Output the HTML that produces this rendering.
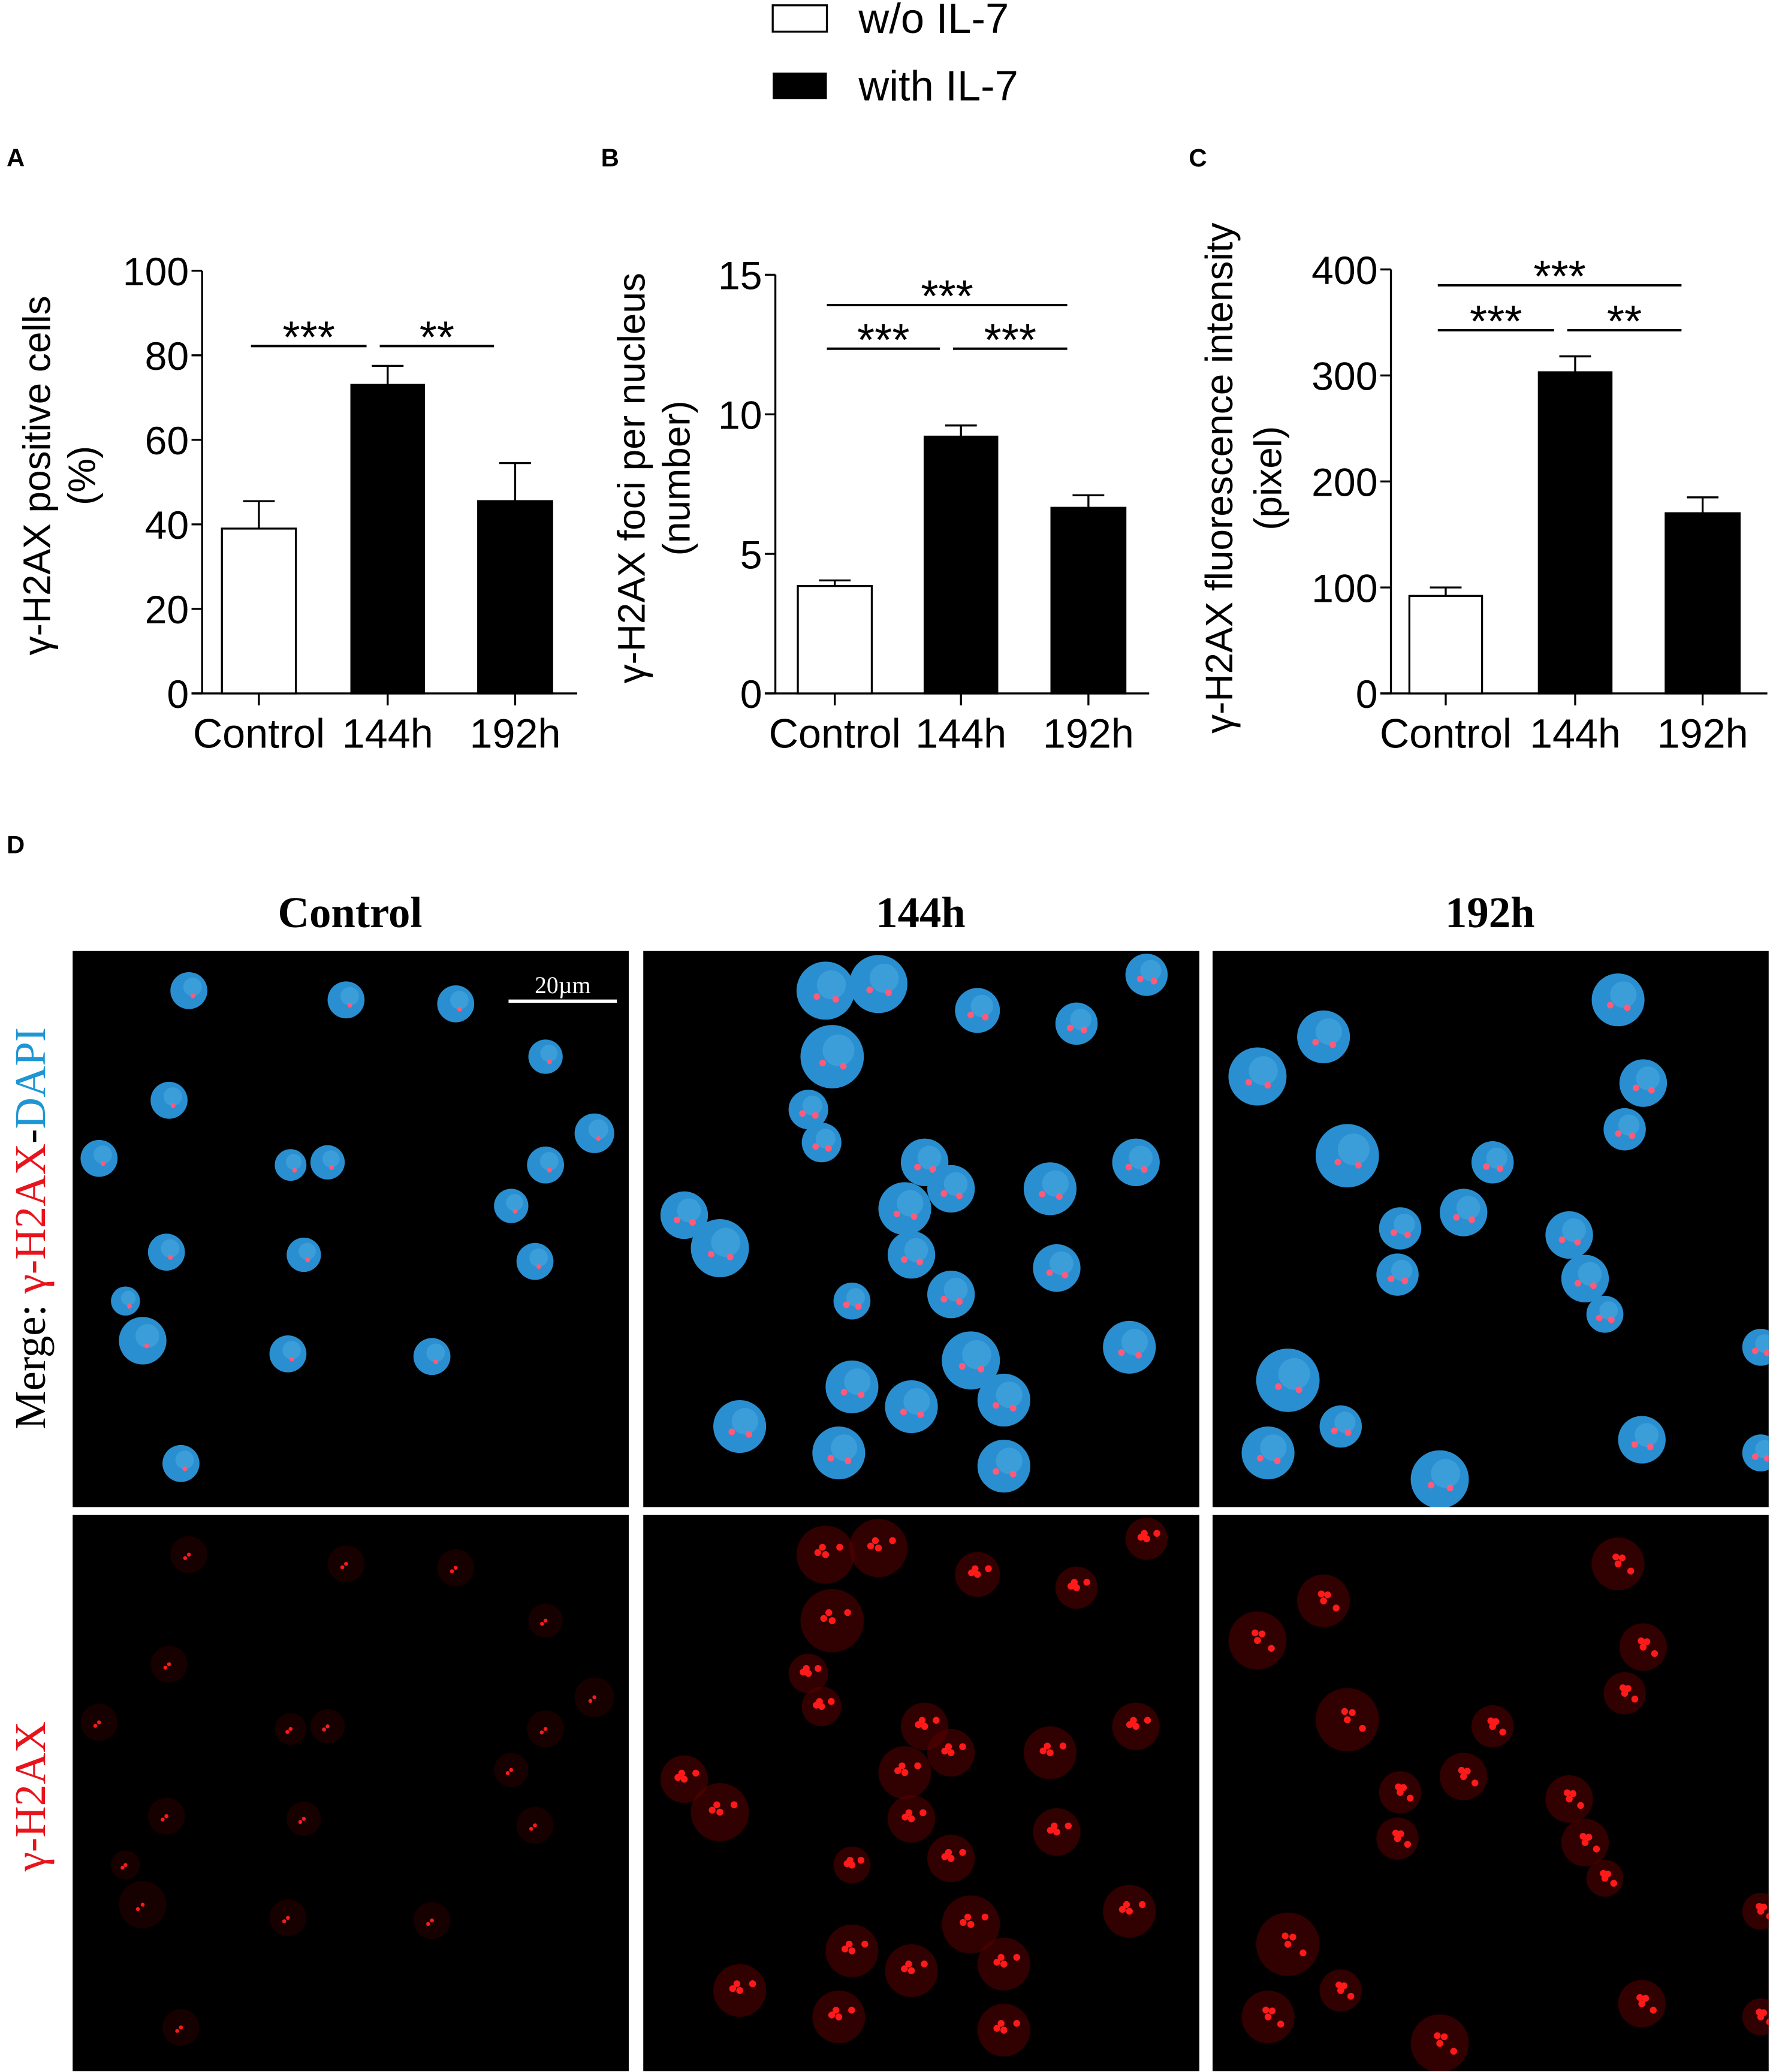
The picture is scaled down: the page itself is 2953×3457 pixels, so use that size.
<!DOCTYPE html>
<html><head><meta charset="utf-8"><title>γ-H2AX figure</title>
<style>
html,body{margin:0;padding:0;background:#fff}
svg{display:block}
text{font-family:"Liberation Sans",Arial,sans-serif}
.serif{font-family:"Liberation Serif","Times New Roman",serif}
</style></head>
<body>
<svg id="fig" width="2953" height="3457" viewBox="0 0 1340 1568.7" preserveAspectRatio="none" xmlns="http://www.w3.org/2000/svg">
<g>
  <rect x="585" y="4" width="41" height="20" fill="#fff" stroke="#000" stroke-width="1.5"/>
  <text x="650" y="25" font-size="32">w/o IL-7</text>
  <rect x="585" y="55" width="41" height="20" fill="#000"/>
  <text x="650" y="76" font-size="32">with IL-7</text>
</g>
<text x="5" y="126" font-size="19" font-weight="bold">A</text>
<text x="455" y="126" font-size="19" font-weight="bold">B</text>
<text x="900" y="126" font-size="19" font-weight="bold">C</text>
<text x="5" y="646" font-size="19" font-weight="bold">D</text>
<g id="charts"></g>
<g>
  <text class="serif" x="265" y="702" font-size="33" font-weight="bold" text-anchor="middle">Control</text>
  <text class="serif" x="697" y="702" font-size="33" font-weight="bold" text-anchor="middle">144h</text>
  <text class="serif" x="1128" y="702" font-size="33" font-weight="bold" text-anchor="middle">192h</text>
  <text class="serif" transform="translate(34,930) rotate(-90)" font-size="33" text-anchor="middle"><tspan fill="#000">Merge: </tspan><tspan fill="#e8141c">γ-H2AX</tspan><tspan fill="#000">-</tspan><tspan fill="#1e96d6">DAPI</tspan></text>
  <text class="serif" transform="translate(34,1360) rotate(-90)" font-size="33" text-anchor="middle" fill="#e8141c">γ-H2AX</text>
  <g id="images"></g>
</g>
</svg>
<script>
const NS="http://www.w3.org/2000/svg";
function mk(tag,attrs,parent){const e=document.createElementNS(NS,tag);for(const k in attrs)e.setAttribute(k,attrs[k]);parent.appendChild(e);return e;}

// ---- chart data ----
const categories=["Control","144h","192h"];
const valuesA=[39,73,45.5];
const errorsA=[45.5,77.5,54.5];
const ticksA=[0,20,40,60,80,100];
const valuesB=[3.85,9.2,6.65];
const errorsB=[4.05,9.6,7.1];
const ticksB=[0,5,10,15];
const valuesC=[92,303,170];
const errorsC=[100,318,185];
const ticksC=[0,100,200,300,400];
const sigA=[[0,1,"***",0],[1,2,"**",0]];
const sigB=[[0,1,"***",0],[1,2,"***",0],[0,2,"***",1]];
const sigC=[[0,1,"***",0],[1,2,"**",0],[0,2,"***",1]];

const charts=[
 {id:"a",ax:153,top:205,bot:525,xend:437,max:100,vals:valuesA,errs:errorsA,ticks:ticksA,bars:[[168,224],[266,321],[362,418]],sig:sigA,sigY:[262,0],title:["γ-H2AX positive cells","(%)"],tx:[38,72],ty:360},
 {id:"b",ax:587,top:208,bot:525,xend:870,max:15,vals:valuesB,errs:errorsB,ticks:ticksB,bars:[[604,660],[700,755],[796,852]],sig:sigB,sigY:[264,231],title:["γ-H2AX foci per nucleus","(number)"],tx:[488,522],ty:362},
 {id:"c",ax:1053,top:204,bot:525,xend:1338,max:400,vals:valuesC,errs:errorsC,ticks:ticksC,bars:[[1067,1122],[1165,1220],[1261,1317]],sig:sigC,sigY:[250,216],title:["γ-H2AX fluorescence intensity","(pixel)"],tx:[933,970],ty:362}
];
const root=document.getElementById("charts");
charts.forEach(c=>{
  const g=mk("g",{},root);
  
  
  const y=v=>c.bot-(v/c.max)*(c.bot-c.top);
  const cx=i=>(c.bars[i][0]+c.bars[i][1])/2;
  const ya=mk("line",{x1:c.ax,y1:c.top,x2:c.ax,y2:c.bot,stroke:"#000","stroke-width":1.5},g);
  
  
  const xa=mk("line",{x1:c.ax-8,y1:c.bot,x2:c.xend,y2:c.bot,stroke:"#000","stroke-width":1.5},g);
  
  
  c.ticks.forEach(t=>{
    mk("line",{x1:c.ax-8,y1:y(t),x2:c.ax,y2:y(t),stroke:"#000","stroke-width":1.5},g);
    const tl=mk("text",{x:c.ax-10,y:y(t)+11,"font-size":30,"text-anchor":"end"},g);
    tl.textContent=t;
    
    
  });
  c.vals.forEach((v,i)=>{
    const x0=c.bars[i][0],x1=c.bars[i][1];
    const m=cx(i);
    mk("line",{x1:m,y1:y(c.errs[i]),x2:m,y2:y(v),stroke:"#000","stroke-width":1.5},g);
    mk("line",{x1:m-12,y1:y(c.errs[i]),x2:m+12,y2:y(c.errs[i]),stroke:"#000","stroke-width":1.5},g);
    const b=mk("rect",{x:x0,y:y(v),width:x1-x0,height:c.bot-y(v),fill:i===0?"#fff":"#000",stroke:"#000","stroke-width":1.5},g);
    
    
    mk("line",{x1:m,y1:c.bot,x2:m,y2:c.bot+9,stroke:"#000","stroke-width":1.5},g);
    const cl=mk("text",{x:m,y:c.bot+41,"font-size":31,"text-anchor":"middle"},g);
    cl.textContent=categories[i];
    
    
  });
  c.sig.forEach(s=>{
    const ly=c.sigY[s[3]];
    const x1=cx(s[0])-6, x2=cx(s[1])-16;
    const l=mk("line",{x1:x1,y1:ly,x2:x2,y2:ly,stroke:"#000","stroke-width":1.8},g);
    
    
    const st=mk("text",{x:(x1+x2)/2,y:ly+5,"font-size":34,"text-anchor":"middle"},g);
    st.textContent=s[2];
    
    
  });
  c.title.forEach((t,k)=>{
    const tt=mk("text",{transform:`translate(${c.tx[k]},${c.ty}) rotate(-90)`,"font-size":29,"text-anchor":"middle"},g);
    tt.textContent=t;
    
    
  });
});

// ---- micrographs (decorative) ----
const panelX=[55,487,918];
const rowY=[720,1147];
const cellsCtrl=[[143,750,14],[262,757,14],[345,760,14],[413,800,13],[128,833,14],[75,877,14],[220,882,12],[248,880,13],[450,858,15],[413,882,14],[387,913,13],[405,955,14],[126,948,14],[230,950,13],[95,985,11],[108,1015,18],[218,1025,14],[327,1027,14],[137,1108,14]];
const cells144=[[625,750,22],[665,745,22],[740,765,17],[815,775,16],[868,738,16],[630,800,24],[612,840,15],[622,865,15],[700,880,18],[720,900,18],[795,900,20],[860,880,18],[518,920,18],[545,945,22],[685,915,20],[690,950,18],[800,960,18],[720,980,18],[645,985,14],[760,1060,20],[735,1030,22],[690,1065,20],[645,1050,20],[560,1080,20],[760,1110,20],[635,1100,20],[855,1020,20]];
const cells192=[[1225,757,20],[1002,785,20],[952,815,22],[1244,820,18],[1230,855,16],[1020,875,24],[1130,880,16],[1108,918,18],[1060,930,16],[1188,935,18],[1200,968,18],[1215,995,14],[1058,965,16],[975,1045,24],[1015,1080,16],[960,1100,20],[1090,1120,22],[1243,1090,18],[1333,1020,14],[1333,1100,14]];
const sets=[cellsCtrl,cells144,cells192];
const names=["control","144h","192h"];
const img=document.getElementById("images");
sets.forEach((cells,ci)=>{
  rowY.forEach((ry,ri)=>{
    const p=mk("g",{},img);
    
    
    const clipId="clip"+ci+ri;
    const cp=mk("clipPath",{id:clipId},p);
    mk("rect",{x:panelX[ci],y:ry,width:421,height:421},cp);
    mk("rect",{x:panelX[ci],y:ry,width:421,height:421,fill:"#000"},p);
    const cg=mk("g",{"clip-path":`url(#${clipId})`},p);
    cells.forEach(([x,y,r])=>{
      const yy=y+(ri===0?0:427);
      if(ri===0){
        mk("circle",{cx:x,cy:yy,r:r,fill:"#2a8fd0"},cg);
        mk("circle",{cx:x+r*0.2,cy:yy-r*0.2,r:r*0.5,fill:"#4aa8e0",opacity:0.6},cg);
        if(ci>0){mk("circle",{cx:x-r*0.3,cy:yy+r*0.2,r:2.5,fill:"#ff5a7a"},cg);mk("circle",{cx:x+r*0.35,cy:yy+r*0.3,r:2.5,fill:"#ff5a7a"},cg);}
        else mk("circle",{cx:x+3,cy:yy+4,r:1.8,fill:"#ff5a7a"},cg);
      }else{
        mk("circle",{cx:x,cy:yy,r:r,fill:"#5a0000",opacity:ci===0?0.25:0.55},cg);
        const n=ci===0?2:5;
        for(let k=0;k<n;k++){
          const a=k*2.4+ci, d=r*0.55;
          mk("circle",{cx:x+Math.cos(a)*d*((k%3)/2),cy:yy+Math.sin(a)*d*((k%3)/2),r:ci===0?1.5:2.6,fill:"#ff1a1a"},cg);
        }
      }
    });
    if(ri===0&&ci===0){
      mk("line",{x1:385,y1:758,x2:467,y2:758,stroke:"#fff","stroke-width":2.5},p);
      const sb=mk("text",{x:426,y:752,"font-size":18,fill:"#fff","text-anchor":"middle",class:"serif"},p);
      sb.textContent="20µm";
      
      
    }
  });
});
</script>
</body></html>
